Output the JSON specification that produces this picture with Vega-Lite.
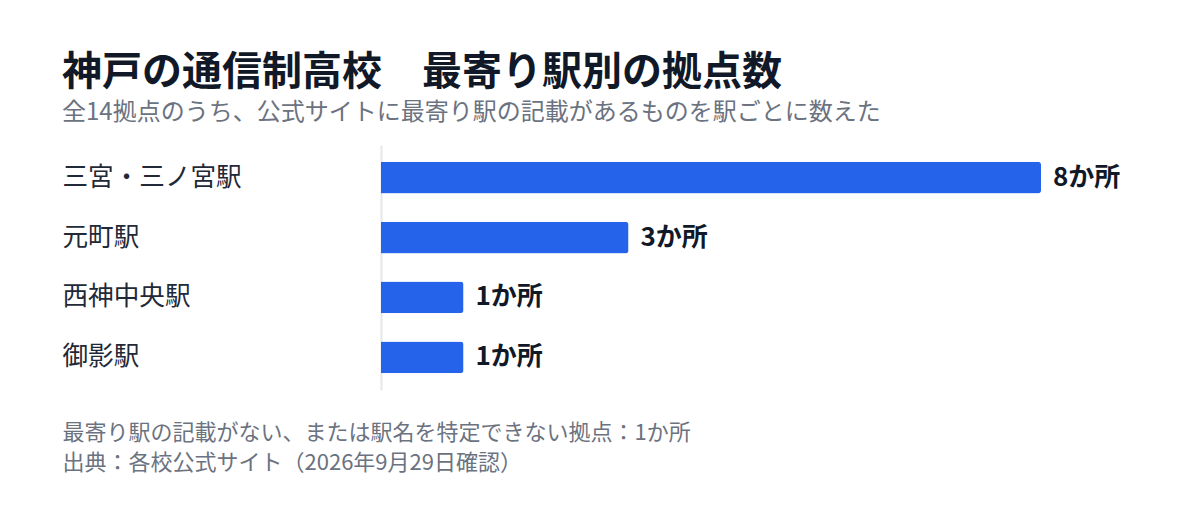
{
  "$schema": "https://vega.github.io/schema/vega-lite/v6.json",
  "width": 660,
  "height": 245,
  "autosize": {"type": "pad"},
  "padding": {"left": 62, "top": 53, "right": 20, "bottom": 20},
  "background": "#ffffff",
  "title": {
    "text": "神戸の通信制高校　最寄り駅別の拠点数",
    "subtitle": "全14拠点のうち、公式サイトに最寄り駅の記載があるものを駅ごとに数えた",
    "anchor": "start",
    "frame": "bounds",
    "font": "Noto Sans CJK JP",
    "fontSize": 40,
    "fontWeight": "bold",
    "color": "#111827",
    "subtitleFont": "Noto Sans CJK JP",
    "subtitleFontSize": 24,
    "subtitleColor": "#6b7280",
    "subtitlePadding": 8,
    "offset": 20
  },
  "data": {
    "values": [
      {"station": "三宮・三ノ宮駅", "count": 8, "label": "8か所"},
      {"station": "元町駅", "count": 3, "label": "3か所"},
      {"station": "西神中央駅", "count": 1, "label": "1か所"},
      {"station": "御影駅", "count": 1, "label": "1か所"}
    ]
  },
  "encoding": {
    "y": {
      "field": "station",
      "type": "nominal",
      "sort": null,
      "scale": {"paddingInner": 0.47, "paddingOuter": 0.28},
      "axis": {
        "title": null,
        "ticks": false,
        "domain": true,
        "domainColor": "#e5e7eb",
        "domainWidth": 2,
        "labelAlign": "left",
        "labelPadding": 319,
        "labelFont": "Noto Sans CJK JP",
        "labelFontSize": 25.6,
        "labelColor": "#1f2937"
      }
    },
    "x": {
      "field": "count",
      "type": "quantitative",
      "scale": {"domain": [0, 8], "nice": false},
      "axis": {
        "domain": false,
        "ticks": false,
        "labels": false,
        "grid": false,
        "title": "最寄り駅の記載がない、または駅名を特定できない拠点：1か所\n出典：各校公式サイト（2026年9月29日確認）",
        "titleAnchor": "start",
        "titleAlign": "left",
        "titleBaseline": "top",
        "titleX": -319,
        "titleY": 32,
        "titleFont": "Noto Sans CJK JP",
        "titleFontSize": 22,
        "titleFontWeight": "normal",
        "titleColor": "#6b7280",
        "titleLineHeight": 30
      }
    }
  },
  "layer": [
    {
      "mark": {"type": "bar", "color": "#2563eb", "cornerRadiusEnd": 3}
    },
    {
      "mark": {
        "type": "text",
        "align": "left",
        "baseline": "middle",
        "dx": 12,
        "font": "Noto Sans CJK JP",
        "fontSize": 26,
        "fontWeight": "bold",
        "color": "#111827"
      },
      "encoding": {"text": {"field": "label"}}
    }
  ],
  "config": {
    "view": {"stroke": null},
    "lineBreak": "\n"
  }
}
